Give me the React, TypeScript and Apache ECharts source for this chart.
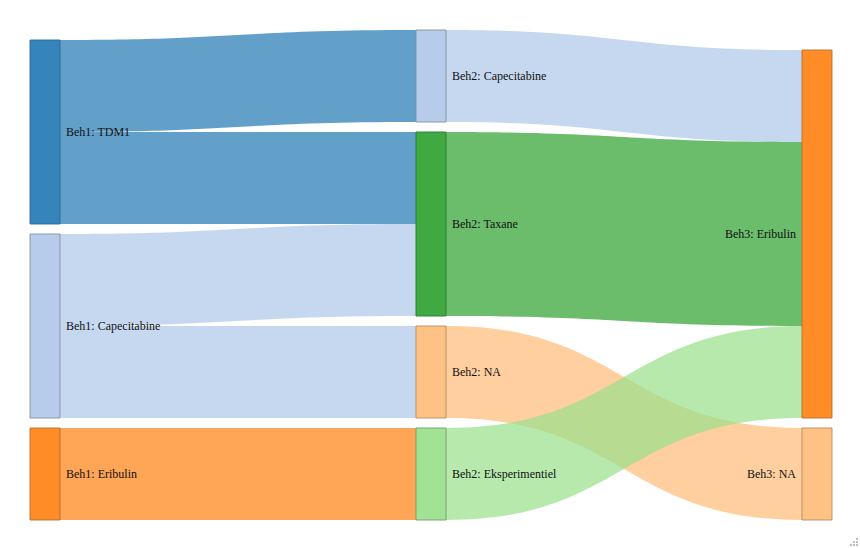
import React, { useEffect, useRef } from "react";
import * as echarts from "echarts";

const nodeNames = [
  "Beh1: TDM1",
  "Beh1: Capecitabine",
  "Beh1: Eribulin",
  "Beh2: Capecitabine",
  "Beh2: Taxane",
  "Beh2: NA",
  "Beh2: Eksperimentiel",
  "Beh3: Eribulin",
  "Beh3: NA",
];
const nodeColumns = [0, 0, 0, 1, 1, 1, 1, 2, 2];
const nodeColors = [
  "#1f77b4",
  "#aec7e8",
  "#ff7f0e",
  "#aec7e8",
  "#2ca02c",
  "#ffbb78",
  "#98df8a",
  "#ff7f0e",
  "#ffbb78",
];
const nodeBorders = [
  "#2b6a96",
  "#8390a2",
  "#b5702f",
  "#8390a2",
  "#2a7a30",
  "#b58c62",
  "#6f9e66",
  "#b5702f",
  "#b58c62",
];

const linkSources = [
  "Beh1: TDM1",
  "Beh1: TDM1",
  "Beh1: Capecitabine",
  "Beh1: Capecitabine",
  "Beh1: Eribulin",
  "Beh2: Capecitabine",
  "Beh2: Taxane",
  "Beh2: NA",
  "Beh2: Eksperimentiel",
];
const linkTargets = [
  "Beh2: Capecitabine",
  "Beh2: Taxane",
  "Beh2: Taxane",
  "Beh2: NA",
  "Beh2: Eksperimentiel",
  "Beh3: Eribulin",
  "Beh3: Eribulin",
  "Beh3: NA",
  "Beh3: Eribulin",
];
const linkValues = [1, 1, 1, 1, 1, 1, 2, 1, 1];

const W = 860;
const H = 548;
const PAD_L = 30;
const PAD_R = 28;
const PAD_T = 30;
const PAD_B = 28;
const NODE_W = 30;
const NODE_GAP = 10;
const LABEL_DIST = 6;
const SERIF = "Liberation Serif";

export default function App() {
  const ref = useRef<HTMLDivElement>(null);
  useEffect(() => {
    document.body.style.margin = "0";
    if (!ref.current) return;
    const chart = echarts.init(ref.current, undefined, { renderer: "svg" });

    const values = nodeNames.map((n) => {
      let inV = 0;
      let outV = 0;
      linkSources.forEach((s, i) => {
        if (s === n) outV += linkValues[i];
        if (linkTargets[i] === n) inV += linkValues[i];
      });
      return Math.max(inV, outV);
    });
    const layoutW = W - PAD_L - PAD_R;
    const layoutH = H - PAD_T - PAD_B;
    const cols = Array.from(new Set(nodeColumns));
    const maxCol = Math.max(...nodeColumns);
    let ky = Infinity;
    cols.forEach((c) => {
      const idx = nodeColumns.map((cc, i) => (cc === c ? i : -1)).filter((i) => i >= 0);
      const sum = idx.reduce((a, i) => a + values[i], 0);
      ky = Math.min(ky, (layoutH - (idx.length - 1) * NODE_GAP) / sum);
    });
    const localY: number[] = new Array(nodeNames.length).fill(0);
    cols.forEach((c) => {
      const idx = nodeColumns.map((cc, i) => (cc === c ? i : -1)).filter((i) => i >= 0);
      const sum = idx.reduce((a, i) => a + values[i], 0);
      let y = layoutH - (sum * ky + (idx.length - 1) * NODE_GAP);
      idx.forEach((i) => {
        localY[i] = y / layoutH;
        y += values[i] * ky + NODE_GAP;
      });
    });

    const data = nodeNames.map((name, i) => ({
      name,
      localY: localY[i],
      itemStyle: {
        color: nodeColors[i],
        borderColor: nodeBorders[i],
        borderWidth: 1,
        opacity: 0.9,
      },
    }));
    const links = linkSources.map((s, i) => ({
      source: s,
      target: linkTargets[i],
      value: linkValues[i],
    }));

    const gripDots: [number, number][] = [
      [857, 539],
      [854, 542],
      [857, 542],
      [851, 545],
      [854, 545],
      [857, 545],
    ];
    const gripGraphics = gripDots.map(([x, y]) => ({
      type: "rect",
      z: 100,
      shape: { x: x - 0.75, y: y - 0.75, width: 1.5, height: 1.5 },
      style: { fill: "#8a8a8a" },
      silent: true,
    }));

    const kx = (layoutW - NODE_W) / maxCol;
    const labelGraphics = nodeNames.map((name, i) => {
      const col = nodeColumns[i];
      const nodeX = PAD_L + col * kx;
      const nodeTop = PAD_T + localY[i] * layoutH;
      const nodeH = values[i] * ky;
      const onLeft = col === maxCol;
      return {
        type: "text",
        z: 100,
        silent: true,
        x: onLeft ? nodeX - LABEL_DIST : nodeX + NODE_W + LABEL_DIST,
        y: nodeTop + nodeH / 2,
        style: {
          text: name,
          fontFamily: SERIF,
          fontSize: 12,
          fill: "#111",
          textAlign: onLeft ? "right" : "left",
          textVerticalAlign: "middle",
        },
      };
    });

    chart.setOption({
      animation: false,
      textStyle: { fontFamily: SERIF },
      graphic: [...gripGraphics, ...labelGraphics],
      series: [
        {
          type: "sankey",
          left: PAD_L,
          right: PAD_R,
          top: PAD_T,
          bottom: PAD_B,
          nodeWidth: NODE_W,
          nodeGap: NODE_GAP,
          layoutIterations: 0,
          draggable: false,
          emphasis: { disabled: true },
          data,
          links,
          label: { show: false },
          lineStyle: {
            color: "source",
            opacity: 0.7,
            curveness: 0.5,
          },
        },
      ],
    });
    return () => chart.dispose();
  }, []);
  return <div ref={ref} style={{ width: W, height: H }} />;
}
